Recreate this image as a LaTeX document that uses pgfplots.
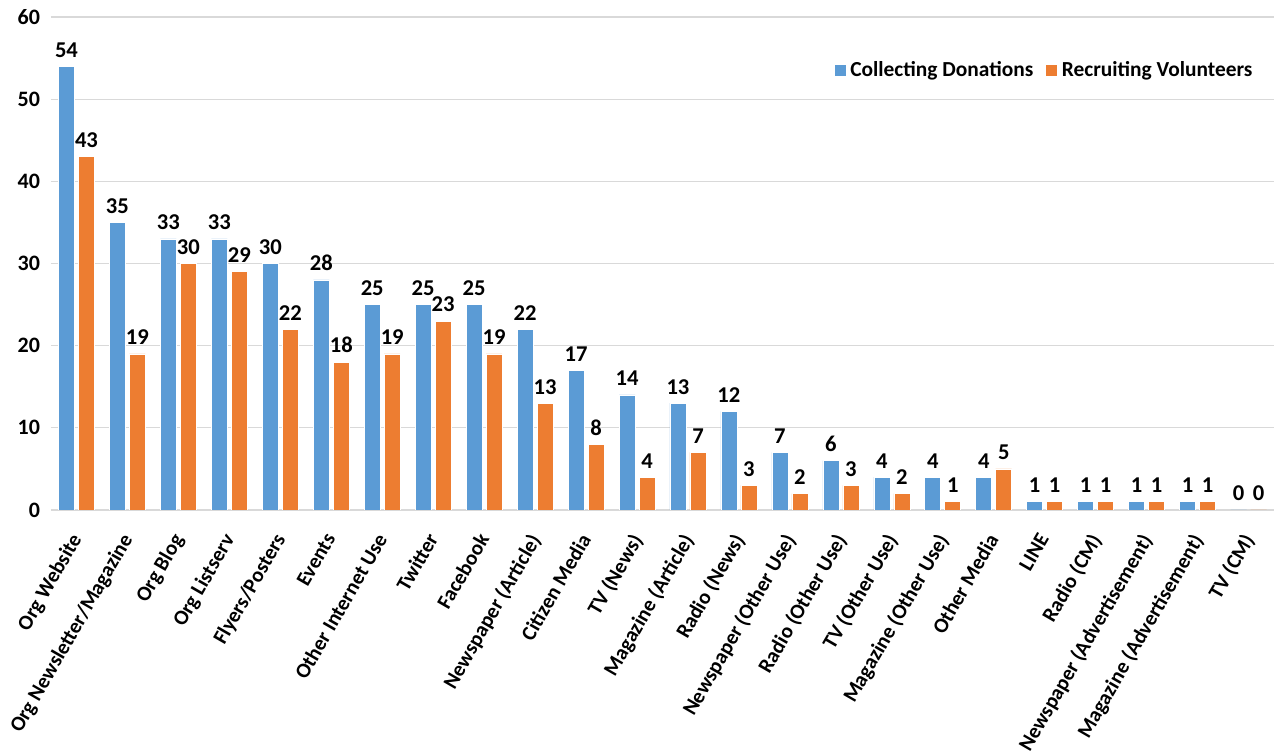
\documentclass[border=0pt]{standalone}
\usepackage{pgfplots}
\pgfplotsset{compat=1.18}
\usepackage{pgfplotstable}
\usepackage{fontspec}
\setmainfont{Carlito}
\usetikzlibrary{calc}

\definecolor{cblue}{HTML}{5B9BD5}
\definecolor{corange}{HTML}{ED7D31}
\definecolor{cgrid}{HTML}{D9D9D9}

\pgfplotstableread{
x don vol
0 54 43
1 35 19
2 33 30
3 33 29
4 30 22
5 28 18
6 25 19
7 25 23
8 25 19
9 22 13
10 17 8
11 14 4
12 13 7
13 12 3
14 7 2
15 6 3
16 4 2
17 4 1
18 4 5
19 1 1
20 1 1
21 1 1
22 1 1
23 0 0
}\datatable

\begin{document}
\begin{tikzpicture}[font=\fontsize{11}{13}\selectfont\bfseries]
\begin{axis}[
  name=ax,
  scale only axis,
  width=611.5pt, height=246.5pt,
  xmin=-0.5, xmax=23.5,
  ymin=0, ymax=60,
  ytick={0,10,...,60},
  xtick=data,
  xticklabels={Org Website,Org Newsletter/Magazine,Org Blog,Org Listserv,Flyers/Posters,Events,Other Internet Use,Twitter,Facebook,Newspaper (Article),Citizen Media,TV (News),Magazine (Article),Radio (News),Newspaper (Other Use),Radio (Other Use),TV (Other Use),Magazine (Other Use),Other Media,LINE,Radio (CM),Newspaper (Advertisement),Magazine (Advertisement),TV (CM)},
  x tick label style={xshift=-4pt, yshift=-5pt, rotate=60, anchor=north east, inner sep=1pt,
    font=\fontsize{10.5}{12}\selectfont\bfseries},
  yticklabel style={xshift=-2pt, font=\fontsize{11}{13}\selectfont\bfseries},
  /pgf/number format/assume math mode=true,
  tick style={draw=none},
  axis y line*=left,
  axis x line*=bottom,
  y axis line style={draw=none},
  x axis line style={draw=cgrid, line width=0.8pt},
  ymajorgrids,
  grid style={cgrid, line width=0.6pt},
  ybar,
  bar width=8pt,
  nodes near coords,
  every node near coord/.append style={font=\fontsize{11.3}{13}\selectfont\bfseries, black, yshift=1pt},
  legend style={at={(0.986,0.892)}, anchor=east, draw=none, fill=none, inner sep=0pt,
    legend columns=2, font=\fontsize{10.7}{13}\selectfont\bfseries,
    /tikz/every even column/.append style={column sep=4pt}},
  legend image code/.code={\fill[#1] (0pt,-3pt) rectangle (6pt,3pt);},
]
\addplot[fill=cblue, draw=white, line width=0.3pt, bar shift=-5pt] table[x=x, y=don] {\datatable};
\addlegendentry{Collecting Donations}
\addplot[fill=corange, draw=white, line width=0.3pt, bar shift=5pt] table[x=x, y=vol] {\datatable};
\addlegendentry{Recruiting Volunteers}
\end{axis}
\pgfresetboundingbox
\path[use as bounding box] ($(ax.south west)+(-25.5pt,-123pt)$) rectangle ($(ax.north east)+(0pt,8.5pt)$);
\end{tikzpicture}
\end{document}
